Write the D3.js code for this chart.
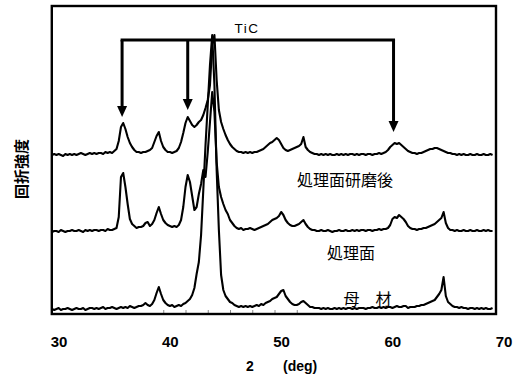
<!DOCTYPE html>
<html><head><meta charset="utf-8">
<script src="https://cdn.jsdelivr.net/npm/d3@7"></script>
<style>body{margin:0;background:#fff}</style>
</head><body><svg id="c" width="516" height="381"></svg>
<script>
// ---- data (heights, per trace, above its own baseline) ----
const twoTheta = d3.range(0, 199).map(i => +(30 + 0.2 * i).toFixed(1)); // 30.0 … 69.6 step 0.2
const traceNames = ["母　材", "処理面", "処理面研磨後"];
const traceOffset = [4, 82, 159];
const baseMetal = [
 1,0,1,2,0,1,1,2,1,0,  1,2,1,1,2,0,1,2,2,1,  2,1,2,3,1,2,2,3,2,1,  2,3,2,3,2,4,3,2,3,4,
 4,5,7,5,4,6,10,17,23,16,  10,7,5,4,5,3,4,5,4,6,  7,9,11,15,22,36,48,75,120,165,
 205,245,275,225,140,80,35,20,14,11,  8,7,5,4,3,4,3,4,3,4,  3,4,5,4,6,5,7,8,9,11,
 12,13,16,19,20,14,11,8,6,5,  5,6,8,9,7,5,3,3,2,2,  2,1,2,1,2,1,1,2,1,2,  1,2,1,2,2,1,2,1,2,2,
 2,1,2,2,3,2,2,3,2,3,  2,3,3,2,3,4,3,3,4,4,  2,3,3,3,4,4,5,5,6,7,  8,9,10,13,16,20,33,14,8,6,
 4,3,3,2,3,2,2,1,2,2,  1,2,1,2,1,2,1,1,2];
const treated = [
 0,1,1,0,2,1,0,1,1,2,  1,1,2,1,0,2,1,2,1,2,  2,1,2,2,1,3,2,2,3,4,  15,55,59,45,28,13,8,6,4,5,
 5,6,9,10,6,8,12,19,25,18,  12,9,7,6,5,6,5,7,12,25,  45,57,50,36,22,25,38,48,62,55,
 80,110,140,120,70,45,35,28,22,18,  12,9,6,4,3,4,2,3,3,4,  3,2,3,4,5,6,7,8,10,12,
 13,14,16,20,17,12,9,7,6,6,  7,8,10,12,8,5,3,2,2,1,  1,2,1,1,2,1,0,1,1,2,  1,1,2,1,1,2,1,2,1,2,
 2,1,2,2,1,2,2,3,2,3,  3,4,7,13,15,14,17,15,13,10,  6,4,3,3,2,3,3,4,4,5,  6,7,8,10,12,14,20,9,4,2,
 2,1,2,1,1,2,1,1,2,1,  1,2,1,1,2,1,2,1,1];
const polished = [
 0,1,0,1,0,-1,1,0,1,0,  1,0,1,2,1,0,1,2,1,2,  1,2,2,1,3,2,3,2,4,6,  14,28,32,26,18,12,8,5,3,3,
 2,3,3,4,5,7,13,19,23,14,  8,5,3,3,2,3,4,7,13,22,  32,38,34,30,28,30,33,35,40,47,
 55,70,110,120,75,45,33,26,20,15,  11,8,6,4,3,3,2,3,2,3,  2,3,3,4,5,6,8,10,12,13,
 15,17,15,11,7,5,4,5,6,7,  8,9,11,18,8,5,3,2,1,1,  0,1,0,1,0,1,0,0,1,0,  1,0,1,0,1,1,0,1,0,1,
 1,0,1,1,0,1,1,2,1,2,  3,5,8,10,12,11,12,10,8,6,  4,3,2,2,1,2,2,3,4,5,  6,6,7,7,6,5,4,3,2,2,
 1,1,0,1,0,1,0,0,1,0,  0,1,0,0,1,0,0,1,0];
const xTickValues = [30, 40, 50, 60, 70];
const xMinorTicks = [40, 42, 44, 46, 48, 50, 52];
const ticPeaks = [36.3, 42.2, 60.7];
const ticArrowLevel = [197, 204, 182];
const ticBracketLevel = 274;

// ---- chart ----
const svg = d3.select("#c");
const x = d3.scaleLinear().domain([30, 70]).range([52, 497]);
const y = d3.scaleLinear().domain([0, 308]).range([314, 6]);
const series = [baseMetal, treated, polished];

const line = d3.line().x(d => x(d[0])).y(d => y(d[1]));
series.forEach((vals, k) => {
  const pts = twoTheta.map((t, i) => [t, vals[i] + traceOffset[k]]);
  svg.append("path").datum(pts).attr("d", line)
    .attr("fill", "none").attr("stroke", "#000").attr("stroke-width", 2.1)
    .attr("stroke-linejoin", "round");
});

// minor ticks (inside)
const minor = svg.append("g").attr("transform", "translate(0,314)")
  .call(d3.axisBottom(x).tickValues(xMinorTicks).tickSize(-4).tickFormat(""));
minor.select(".domain").remove();
minor.selectAll("line").attr("stroke", "#888").attr("stroke-width", 1);

// frame
svg.append("rect").attr("x", 51.8).attr("y", 6).attr("width", 444.2).attr("height", 308)
  .attr("fill", "none").attr("stroke", "#000").attr("stroke-width", 2.4);

// x axis labels
const ax = svg.append("g").attr("transform", "translate(0,314)")
  .call(d3.axisBottom(x).tickValues(xTickValues).tickSize(0).tickPadding(22).tickFormat(d3.format("d")));
ax.select(".domain").remove();
ax.selectAll("text").attr("dx", 6.5)
  .style("font-family", "'Liberation Sans', Arial, sans-serif").style("font-size", "15px")
  .style("font-weight", "bold").attr("fill", "#000");

// axis titles
svg.append("text").attr("x", 250).attr("y", 371).attr("text-anchor", "middle")
  .style("font-family", "'Liberation Sans', Arial, sans-serif").style("font-size", "14px")
  .style("font-weight", "bold").text("2");
svg.append("text").attr("x", 283).attr("y", 371).attr("text-anchor", "start")
  .style("font-family", "'Liberation Sans', Arial, sans-serif").style("font-size", "14px")
  .style("font-weight", "bold").text("(deg)");
svg.append("text").attr("transform", "translate(27,169) rotate(-90)").attr("text-anchor", "middle")
  .style("font-family", "'Noto Sans CJK JP', sans-serif").style("font-size", "15px")
  .style("font-weight", "bold").text("回折強度");

// trace labels
const labelPos = [[367.5, 304.5], [351, 258.5], [345, 185.5]];
traceNames.forEach((n, k) => {
  svg.append("text").attr("x", labelPos[k][0]).attr("y", labelPos[k][1]).attr("text-anchor", "middle")
    .style("font-family", "'Noto Sans CJK JP', sans-serif").style("font-size", "16px").text(n);
});

// TiC bracket + arrows
const by = y(ticBracketLevel);
svg.append("path")
  .attr("d", `M${x(ticPeaks[0])},${by + 1.5}V${by}H${x(ticPeaks[2])}V${by + 1.5}`)
  .attr("fill", "none").attr("stroke", "#000").attr("stroke-width", 3);
ticPeaks.forEach((p, i) => {
  const px = x(p), tip = y(ticArrowLevel[i]);
  svg.append("line").attr("x1", px).attr("x2", px).attr("y1", by).attr("y2", tip - 8)
    .attr("stroke", "#000").attr("stroke-width", 3);
  svg.append("path").attr("d", `M${px - 5},${tip - 11}L${px + 5},${tip - 11}L${px},${tip}Z`)
    .attr("fill", "#000");
});
svg.append("text").attr("x", 247).attr("y", 33).attr("text-anchor", "middle")
  .style("font-family", "'Liberation Sans', Arial, sans-serif").style("font-size", "13.5px")
  .style("letter-spacing", "1.5px").text("TiC");
</script></body></html>
